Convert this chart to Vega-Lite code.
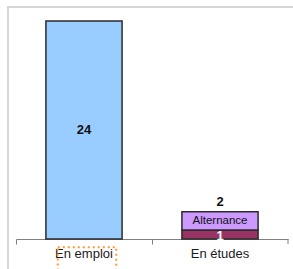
{
  "$schema": "https://vega.github.io/schema/vega-lite/v6.json",
  "width": 290,
  "height": 270,
  "autosize": {"type": "none"},
  "padding": {"left": 8, "top": 7, "right": 0, "bottom": 0},
  "background": "white",
  "config": {"view": {"stroke": "#d6d6d6", "strokeWidth": 2}, "font": "Liberation Sans"},
  "data": {
    "values": [
      {"cat": "En emploi", "part": "En emploi", "value": 24, "order": 1, "inner": "24"},
      {"cat": "En études", "part": "Formation initiale", "value": 1, "order": 1, "inner": "1"},
      {"cat": "En études", "part": "Alternance", "value": 2, "order": 2, "inner": "Alternance"}
    ]
  },
  "transform": [
    {"stack": "value", "groupby": ["cat"], "sort": [{"field": "order", "order": "ascending"}], "as": ["v0", "v1"]},
    {"calculate": "(datum.v0 + datum.v1) / 2", "as": "vmid"}
  ],
  "encoding": {
    "x": {
      "field": "cat",
      "type": "nominal",
      "sort": ["En emploi", "En études"],
      "scale": {"range": [8, 280], "paddingInner": 0, "paddingOuter": 0},
      "axis": {
        "title": null,
        "offset": -38,
        "labelAngle": 0,
        "labelFontSize": 13,
        "labelColor": "#1a1a1a",
        "labelPadding": 3,
        "domainColor": "#808080",
        "tickColor": "#808080",
        "tickSize": 5,
        "bandPosition": 0,
        "grid": false
      }
    }
  },
  "layer": [
    {
      "mark": {"type": "bar", "width": {"band": 0.56}, "stroke": "#2b2b2b", "strokeWidth": 1.5},
      "encoding": {
        "y": {"field": "v0", "type": "quantitative", "scale": {"domain": [0, 24], "range": [232, 14], "nice": false, "zero": true}, "axis": null},
        "y2": {"field": "v1"},
        "fill": {
          "field": "part",
          "type": "nominal",
          "scale": {"domain": ["En emploi", "Alternance", "Formation initiale"], "range": ["#99ccff", "#cc99ff", "#993366"]},
          "legend": null
        }
      }
    },
    {
      "transform": [{"filter": "datum.part == 'En emploi'"}],
      "mark": {"type": "text", "fontSize": 13, "fontWeight": "bold", "color": "#111"},
      "encoding": {"y": {"field": "vmid", "type": "quantitative"}, "text": {"field": "inner"}}
    },
    {
      "transform": [{"filter": "datum.part == 'Formation initiale'"}],
      "mark": {"type": "text", "fontSize": 13, "fontWeight": "bold", "color": "white", "dy": 2},
      "encoding": {"y": {"field": "vmid", "type": "quantitative"}, "text": {"field": "inner"}}
    },
    {
      "transform": [{"filter": "datum.part == 'Alternance'"}],
      "mark": {"type": "text", "fontSize": 11.5, "color": "#111"},
      "encoding": {"y": {"field": "vmid", "type": "quantitative"}, "text": {"field": "inner"}}
    },
    {
      "transform": [{"filter": "datum.part == 'Alternance'"}],
      "mark": {"type": "text", "fontSize": 13, "fontWeight": "bold", "color": "#111", "baseline": "bottom", "dy": -3},
      "encoding": {"y": {"field": "v1", "type": "quantitative"}, "text": {"field": "value", "type": "quantitative"}}
    },
    {
      "transform": [{"filter": "datum.cat == 'En études'"}, {"filter": "datum.order == 1"}],
      "mark": {"type": "rule", "color": "#808080", "strokeWidth": 1},
      "encoding": {
        "x": {"field": "cat", "type": "nominal", "bandPosition": 1},
        "y": {"datum": 0},
        "y2": {"datum": -0.55}
      }
    },
    {
      "transform": [{"filter": "datum.cat == 'En emploi'"}],
      "mark": {"type": "bar", "width": {"band": 0.43}, "xOffset": 3, "fill": null, "fillOpacity": 0, "stroke": "#ff9933", "strokeWidth": 2, "strokeDash": [2, 3], "clip": false},
      "encoding": {
        "y": {"datum": -0.9},
        "y2": {"datum": -4}
      }
    }
  ]
}
